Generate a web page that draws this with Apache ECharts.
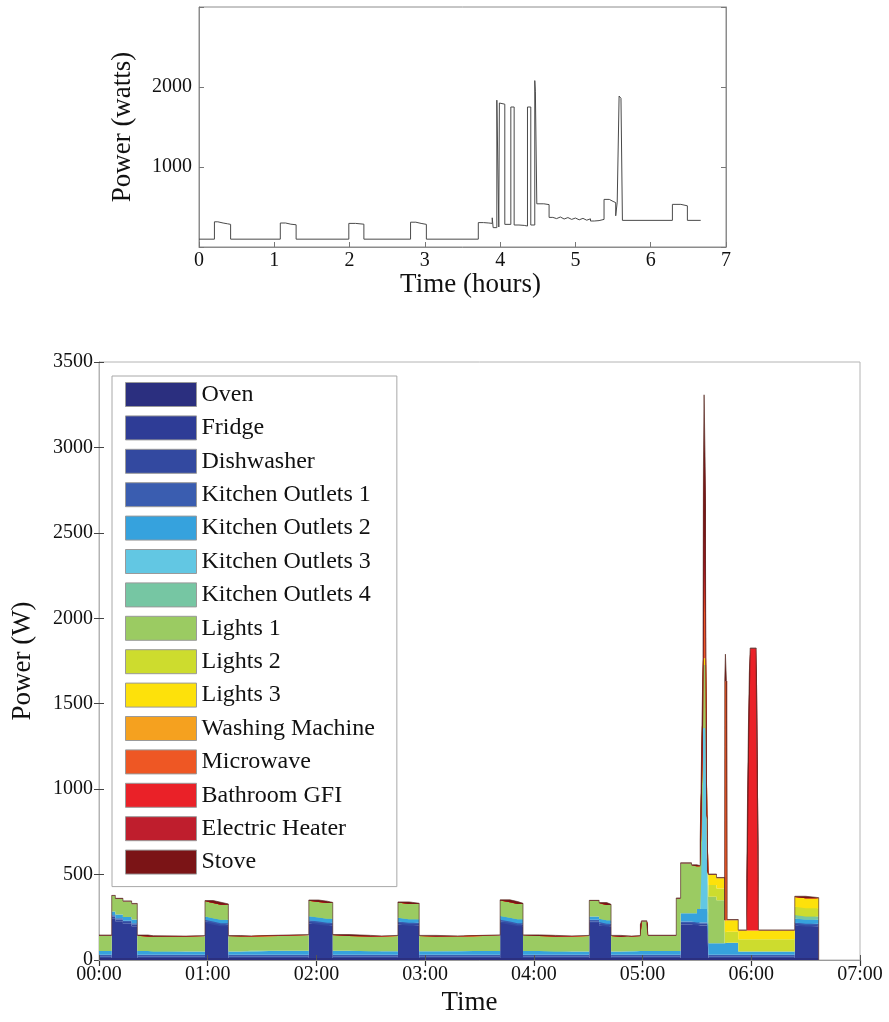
<!DOCTYPE html>
<html><head><meta charset="utf-8">
<script src="https://cdn.jsdelivr.net/npm/echarts@6/dist/echarts.min.js"></script>
<style>html,body{margin:0;padding:0;background:#fff}#c{width:889px;height:1022px}</style>
</head><body><div id="c"></div>
<script>
// ---------- Top chart: aggregate power (hours, watts), held until next point ----------
const topPower = [
  [0, 98], [0.205, 315], [0.25, 300], [0.32, 290], [0.38, 283], [0.42, 98],
  [1.08, 300], [1.15, 285], [1.22, 278], [1.29, 98],
  [1.99, 295], [2.08, 285], [2.19, 98],
  [2.81, 310], [2.88, 295], [2.95, 283], [3.02, 98],
  [3.71, 305], [3.78, 300], [3.85, 295], [3.895, 365], [3.907, 242],
  [3.956, 1835], [3.982, 250], [3.99, 1800], [4.004, 1785], [4.062, 283],
  [4.142, 1750], [4.186, 275], [4.25, 270], [4.32, 262],
  [4.363, 1750], [4.407, 275], [4.46, 2080], [4.468, 1940], [4.487, 540], [4.58, 530],
  [4.65, 370], [4.7, 355], [4.75, 375], [4.8, 350], [4.85, 368], [4.9, 345], [4.95, 362],
  [5.0, 340], [5.05, 358], [5.1, 335], [5.15, 352], [5.2, 325], [5.25, 330], [5.314, 345],
  [5.38, 595], [5.45, 570], [5.5, 555], [5.535, 390], [5.555, 560],
  [5.58, 1887], [5.605, 1858], [5.624, 333],
  [6.288, 533], [6.4, 515], [6.487, 333], [6.664, 333]
];
const topYLabels = [1000, 2000];

// ---------- Bottom chart: per-appliance power (hours, watts), held until next point ----------
const applianceNames = ['Oven', 'Fridge', 'Dishwasher', 'Kitchen Outlets 1', 'Kitchen Outlets 2',
  'Kitchen Outlets 3', 'Kitchen Outlets 4', 'Lights 1', 'Lights 2', 'Lights 3',
  'Washing Machine', 'Microwave', 'Bathroom GFI', 'Electric Heater', 'Stove'];
const applianceColors = ['#2b2f7f', '#2e3c96', '#3349a0', '#3a5db0', '#36a2dd',
  '#62c7e3', '#76c6a3', '#9bcb62', '#cddc2e', '#fde10b',
  '#f5a11f', '#ee5724', '#ea2128', '#bf1e2d', '#7b1416'];

const oven = [[0, 12]];
const fridge = [[0, 0], [0.117, 232], [0.15, 215], [0.22, 200], [0.3, 185], [0.352, 0],
  [0.975, 205], [1.05, 195], [1.12, 185], [1.19, 0],
  [1.93, 202], [2.02, 195], [2.1, 188], [2.15, 0],
  [2.75, 196], [2.85, 188], [2.945, 0],
  [3.69, 205], [3.78, 195], [3.85, 185], [3.9, 0],
  [4.51, 205], [4.6, 192], [4.67, 182], [4.71, 0],
  [5.35, 195], [5.5, 190], [5.605, 0],
  [6.4, 190], [6.5, 182]];
const dishwasher = [[0, 10]];
const kitchen1 = [[0, 8]];
const kitchen2 = [[0, 22], [0.5, 20], [1.4, 24], [2.5, 21], [3.3, 23], [4.2, 20], [4.9, 23],
  [5.35, 48], [5.5, 78], [5.595, 48], [5.605, 68], [5.76, 71], [5.88, 20], [6.4, 23]];
const kitchen3 = [[0, 0], [5.53, 150], [5.538, 450], [5.546, 800], [5.556, 1060], [5.584, 700],
  [5.59, 300], [5.597, 0]];
const kitchen4 = [[0, 0], [6.4, 20]];
const lights1 = [[0, 90], [0.45, 86], [0.8, 89], [1.3, 87], [1.65, 91], [2.3, 86], [2.6, 89],
  [3.1, 86], [3.45, 90], [4.05, 87], [4.35, 90], [4.8, 86],
  [4.98, 150], [4.99, 172], [5.04, 150], [5.05, 88],
  [5.31, 306], [5.35, 292], [5.45, 280], [5.5, 250], [5.556, 368], [5.584, 250],
  [5.605, 272], [5.68, 252], [5.755, 0]];
const lights2 = [[0, 0], [5.605, 69], [5.755, 65], [5.88, 72], [6.4, 48]];
const lights3 = [[0, 0], [5.556, 40], [5.584, 0], [5.605, 60], [5.755, 67], [5.88, 50], [6.4, 58]];
const washingMachine = [[0, 0]];
const microwave = [[0, 0], [5.56, 1116], [5.582, 0], [5.756, 1400], [5.778, 0]];
const bathroomGFI = [[0, 0], [5.958, 300], [5.966, 800], [5.974, 1200], [5.982, 1500], [5.99, 1650],
  [6.045, 1500], [6.052, 1000], [6.059, 500], [6.066, 0]];
const electricHeater = [[0, 0]];
const stove = [[0, 4], [5.566, 426], [5.576, 4], [5.762, 157], [5.771, 4]];
const dataEnd = 6.62;

const xTickLabels = ['00:00', '01:00', '02:00', '03:00', '04:00', '05:00', '06:00', '07:00'];

// ---------- build aligned table for stacking (time axis so the y value is stacked) ----------
const T0 = new Date(2000, 0, 1, 0, 0, 0).getTime();
const HOUR = 3600000;
const defs = [oven, fridge, dishwasher, kitchen1, kitchen2, kitchen3, kitchen4, lights1, lights2,
  lights3, washingMachine, microwave, bathroomGFI, electricHeater, stove];
const tset = new Set([dataEnd]);
defs.forEach(d => d.forEach(p => tset.add(p[0])));
const times = Array.from(tset).sort((a, b) => a - b);
function holdAt(def, t) {
  let v = 0;
  for (const p of def) { if (p[0] <= t + 1e-9) v = p[1]; else break; }
  return v;
}

const FONT = 'Liberation Serif';
const areaSeries = defs.map((d, i) => {
  const isTop = i === defs.length - 1;
  return {
    name: applianceNames[i],
    type: 'line',
    xAxisIndex: 3, yAxisIndex: 2,
    stack: 'total',
    step: 'end',
    symbol: 'none',
    color: applianceColors[i],
    itemStyle: { color: applianceColors[i] },
    lineStyle: isTop ? { width: 0.7, color: '#5a3028' } : { width: 0 },
    areaStyle: { color: applianceColors[i], opacity: 1 },
    emphasis: { disabled: true },
    data: times.map(t => [T0 + t * HOUR, t >= dataEnd ? 0 : holdAt(d, t)])
  };
});

const chart = echarts.init(document.getElementById('c'), null, { renderer: 'canvas' });
const axisLbl = { fontFamily: FONT, fontSize: 20, color: '#111' };
const nameStyle = { fontFamily: FONT, fontSize: 27, color: '#111' };
chart.setOption({
  animation: false,
  backgroundColor: '#fff',
  grid: [
    { left: 199, right: 163, top: 7, bottom: 775, show: true, borderColor: '#8c8c8c', borderWidth: 1 },
    { left: 99, right: 29, top: 362, bottom: 62, show: true, borderColor: '#b4b4b4', borderWidth: 1 }
  ],
  xAxis: [
    { gridIndex: 0, type: 'value', min: 0, max: 7, interval: 1,
      axisLine: { show: true, lineStyle: { color: '#8c8c8c' } },
      axisTick: { inside: true, length: 5, lineStyle: { color: '#777' } },
      axisLabel: Object.assign({ margin: 4, formatter: v => String(v) }, axisLbl),
      splitLine: { show: false },
      name: 'Time (hours)', nameLocation: 'middle', nameGap: 22,
      nameTextStyle: Object.assign({ padding: [0, 0, 0, 16] }, nameStyle) },
    { gridIndex: 1, type: 'value', min: 0, max: 7, interval: 1, z: 5,
      axisLine: { show: true, lineStyle: { color: '#9a9a9a' } },
      axisTick: { inside: true, length: 5, lineStyle: { color: '#555' } },
      axisLabel: Object.assign({ margin: 5, formatter: v => xTickLabels[v] }, axisLbl),
      splitLine: { show: false },
      name: 'Time', nameLocation: 'middle', nameGap: 28,
      nameTextStyle: Object.assign({ padding: [0, 20, 0, 0] }, nameStyle) },
    { gridIndex: 1, type: 'value', position: 'top', min: 0, max: 7, interval: 1,
      axisLine: { show: true, lineStyle: { color: '#b4b4b4' } },
      axisTick: { inside: true, length: 6, lineStyle: { color: '#333', width: 1.2 } },
      axisLabel: { show: false }, splitLine: { show: false } },
    { gridIndex: 1, type: 'time', min: T0, max: T0 + 7 * HOUR, show: false,
      splitLine: { show: false } }
  ],
  yAxis: [
    { gridIndex: 0, type: 'value', min: 0, max: 3000, interval: 1000,
      axisLine: { show: true, lineStyle: { color: '#8c8c8c' } },
      axisTick: { inside: true, length: 5, lineStyle: { color: '#777' } },
      axisLabel: Object.assign({ margin: 7, formatter: v => topYLabels.indexOf(v) >= 0 ? String(v) : '' }, axisLbl),
      splitLine: { show: false },
      name: 'Power (watts)', nameLocation: 'middle', nameGap: 63, nameRotate: 90,
      nameTextStyle: nameStyle },
    { gridIndex: 0, type: 'value', position: 'right', min: 0, max: 3000, interval: 1000,
      axisLine: { show: true, lineStyle: { color: '#8c8c8c' } },
      axisTick: { inside: true, length: 5, lineStyle: { color: '#777' } },
      axisLabel: { show: false }, splitLine: { show: false } },
    { gridIndex: 1, type: 'value', min: 0, max: 3500, interval: 500,
      axisLine: { show: true, lineStyle: { color: '#9a9a9a' } },
      axisTick: { inside: true, length: 5, lineStyle: { color: '#444' } },
      axisLabel: Object.assign({ margin: 6, formatter: v => String(v) }, axisLbl),
      splitLine: { show: false },
      name: 'Power (W)', nameLocation: 'middle', nameGap: 63, nameRotate: 90,
      nameTextStyle: nameStyle },
    { gridIndex: 1, type: 'value', position: 'right', min: 0, max: 3500, interval: 500,
      axisLine: { show: true, lineStyle: { color: '#b4b4b4' } },
      axisTick: { inside: true, length: 5, lineStyle: { color: '#444' } },
      axisLabel: { show: false }, splitLine: { show: false } }
  ],
  legend: {
    orient: 'vertical', left: 112, top: 376,
    itemWidth: 71, itemHeight: 24, itemGap: 8.4, icon: 'rect',
    padding: [6, 22, 12, 13],
    backgroundColor: '#fff', borderColor: '#a8a8a8', borderWidth: 1, borderRadius: 0,
    textStyle: { fontFamily: FONT, fontSize: 24, color: '#111', lineHeight: 24 },
    itemStyle: { borderColor: '#9a9a9a', borderWidth: 1 },
    selectedMode: false,
    data: applianceNames
  },
  series: [
    { name: 'aggregate', type: 'line', xAxisIndex: 0, yAxisIndex: 0, step: 'end', symbol: 'none',
      lineStyle: { color: '#4a4a4a', width: 1 }, emphasis: { disabled: true },
      data: topPower }
  ].concat(areaSeries)
});
</script>
</body></html>
